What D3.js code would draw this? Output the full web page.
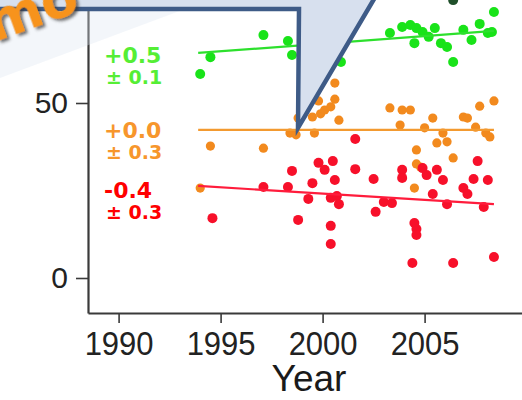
<!DOCTYPE html>
<html lang="en">
<head>
<meta charset="UTF-8">
<title>Trend by year</title>
<script src="https://d3js.org/d3.v7.min.js"></script>
<style>
  body { margin: 0; background: #fff; overflow: hidden; }
  svg { display: block; }
  .axis text { font-family: "Liberation Sans", Arial, sans-serif; fill: #222; }
  .axis path, .axis line { stroke: #3a3a3a; }
</style>
</head>
<body>
<div id="chart"></div>
<script>
// values
const greenYear = [1994.0, 1994.5, 1997.1, 1998.3, 1998.5, 2000.9, 2003.3, 2003.9, 2004.3, 2004.6, 2004.9, 2005.2,
                   2005.5, 2004.5, 2005.8, 2006.1, 2006.4, 2006.9, 2007.3, 2007.7, 2008.1, 2008.3, 2008.4];
const greenValue = [58.3, 63.1, 69.4, 67.7, 63.7, 61.7, 70.0, 71.7, 72.3, 71.4, 70.3, 68.9,
                    71.4, 67.1, 67.1, 66.0, 61.7, 70.9, 68.0, 72.6, 70.0, 70.3, 76.0];

const orangeYear = [1994.0, 1994.5, 1997.1, 1998.4, 1998.7, 1998.8, 1999.5, 1999.6, 1999.9, 2000.1, 2000.4, 2000.6,
                    1999.8, 2000.6, 2000.8, 2003.3, 2003.9, 2004.3, 2005.4, 2003.8, 2005.0, 2005.9, 2005.6, 2006.1,
                    2004.6, 2004.6, 2004.8, 2004.5, 2006.4, 2006.9, 2007.1, 2007.5, 2007.7, 2008.4, 2008.0, 2008.2];
const orangeValue = [25.7, 37.7, 37.1, 41.4, 40.9, 45.7, 46.0, 41.4, 46.9, 48.0, 48.9, 51.1,
                     50.6, 55.7, 45.1, 48.6, 48.0, 48.0, 45.7, 43.7, 42.9, 41.4, 38.6, 38.9,
                     36.6, 32.6, 31.7, 25.7, 34.3, 46.0, 45.7, 43.1, 49.1, 50.6, 41.4, 40.3];

const redYear = [1994.6, 1997.1, 1998.3, 1998.8, 1998.5, 1999.3, 1999.5, 1999.8, 2000.1, 2000.4, 2000.5, 2000.6,
                 2000.7, 2000.8, 2000.4, 2000.4, 2001.6, 2001.6, 2002.5, 2002.6, 2003.0, 2003.4, 2003.9, 2003.9,
                 2004.5, 2004.6, 2004.6, 2004.4, 2004.9, 2005.1, 2005.6, 2005.9, 2005.4, 2006.1, 2006.9, 2007.1,
                 2007.6, 2007.4, 2008.1, 2007.9, 2006.4, 2008.4];
const redValue = [17.1, 26.0, 26.0, 16.6, 30.6, 22.6, 27.1, 32.9, 30.9, 22.9, 33.4, 28.0,
                  23.4, 21.1, 14.9, 9.7, 39.7, 31.1, 28.3, 18.9, 21.7, 21.4, 30.9, 28.6,
                  15.7, 14.0, 12.3, 4.3, 31.4, 29.4, 30.9, 28.0, 24.0, 21.1, 25.7, 24.0,
                  33.4, 28.3, 28.0, 20.3, 4.3, 6.0];

// one dark point peeking in at the top edge
const darkYear = [2006.4];
const darkValue = [79.4];

// fitted trend lines (start / end)
const trendYear = [1993.9, 2008.4];
const greenTrend = [64.3, 70.6];
const orangeTrend = [42.3, 42.3];
const redTrend = [26.3, 21.1];

const slopeText = ["+0.5", "+0.0", "-0.4"];
const errText = ["\u00b1 0.1", "\u00b1 0.3", "\u00b1 0.3"];

const xTicks = [1990, 1995, 2000, 2005];
const xMinor = d3.range(1989, 2011);
const yTicks = [0, 50];
const yMinor = [10, 20, 30, 40, 60, 70];

const width = 522, height = 400;

const svg = d3.select("#chart").append("svg")
    .attr("width", width)
    .attr("height", height);

const x = d3.scaleLinear().domain([1988.5, 2010.5]).range([88, 536.8]);
const y = d3.scaleLinear().domain([-10, 80]).range([313, -2]);

// axes
const xAxisG = svg.append("g").attr("class", "axis")
    .attr("transform", `translate(0,${y(-10)})`);
xAxisG.call(d3.axisBottom(x).tickValues(xMinor).tickSize(6).tickSizeOuter(0).tickFormat(""));
xAxisG.call(d3.axisBottom(x).tickValues(xTicks).tickSize(10).tickSizeOuter(0).tickFormat(d3.format("d")));
xAxisG.selectAll("path").attr("stroke-width", 2.2);
xAxisG.selectAll("line").attr("stroke-width", 1.6);
// the source figure is a little stretched upward, so the year labels are drawn taller
xAxisG.selectAll("text")
    .attr("font-size", 31)
    .attr("y", 17)
    .attr("transform", "scale(1,1.08)");

const yAxisG = svg.append("g").attr("class", "axis")
    .attr("transform", `translate(${x(1988.5)},0)`);
yAxisG.call(d3.axisLeft(y).tickValues(yMinor).tickSize(7).tickSizeOuter(0).tickFormat(""));
yAxisG.call(d3.axisLeft(y).tickValues(yTicks).tickSize(12).tickSizeOuter(0).tickFormat(d3.format("d")));
yAxisG.selectAll("path").attr("stroke-width", 2.2);
yAxisG.selectAll("line").attr("stroke-width", 1.6);
yAxisG.selectAll("text").attr("font-size", 30).attr("x", -20);

svg.append("text")
    .attr("class", "axis")
    .attr("x", 309).attr("y", 391)
    .attr("text-anchor", "middle")
    .attr("font-family", "Liberation Sans, Arial, sans-serif")
    .attr("font-size", 37)
    .attr("fill", "#1a1a1a")
    .text("Year");

// points
function drawPoints(years, values, color, r) {
    svg.append("g").selectAll("circle")
        .data(d3.zip(years, values))
        .join("circle")
        .attr("cx", d => x(d[0]))
        .attr("cy", d => y(d[1]))
        .attr("r", r)
        .attr("fill", color);
}
drawPoints(orangeYear, orangeValue, "#f28a1e", 4.6);
drawPoints(redYear, redValue, "#f7102a", 5);
drawPoints(greenYear, greenValue, "#19e319", 5);
drawPoints(darkYear, darkValue, "#1f4f2a", 5);

// trend lines
const line = d3.line().x(d => x(d[0])).y(d => y(d[1]));
[[greenTrend, "#2de02d"], [orangeTrend, "#f39a30"], [redTrend, "#ff1c3c"]].forEach(([vals, color]) => {
    svg.append("path")
        .datum(d3.zip(trendYear, vals))
        .attr("d", line)
        .attr("fill", "none")
        .attr("stroke", color)
        .attr("stroke-width", 2.2);
});

// slope labels
const labelColors = ["#55ee35", "#f7962c", "#ff0000"];
const labelBase = [63, 138, 198];
slopeText.forEach((t, i) => {
    svg.append("text")
        .attr("x", 104).attr("y", labelBase[i])
        .attr("font-family", "DejaVu Sans, sans-serif")
        .attr("font-weight", "bold")
        .attr("font-size", 22)
        .attr("fill", labelColors[i])
        .text(t);
    svg.append("text")
        .attr("x", 106).attr("y", labelBase[i] + 21)
        .attr("font-family", "DejaVu Sans, sans-serif")
        .attr("font-weight", "bold")
        .attr("font-size", 19)
        .attr("fill", labelColors[i])
        .text(errText[i]);
});

// callout overlay on top
svg.append("path")
    .attr("d", "M0,9 L185,9 L0,78 Z")
    .attr("fill", "#dde5f0")
    .attr("opacity", 0.35);

svg.append("path")
    .attr("d", "M-10,9 L299,9 L298,128 L377,-6 L-10,-6 Z")
    .attr("fill", "#d7e0ee")
    .attr("stroke", "#3e5b87")
    .attr("stroke-width", 4.5)
    .attr("stroke-linejoin", "miter");

const defs = svg.append("defs");
const shadow = defs.append("filter").attr("id", "shadow")
    .attr("x", "-20%").attr("y", "-20%").attr("width", "140%").attr("height", "140%");
shadow.append("feDropShadow")
    .attr("dx", 2).attr("dy", 3).attr("stdDeviation", 1.5)
    .attr("flood-color", "#333").attr("flood-opacity", 0.7);

// slide title text, mostly outside the crop in the original
svg.append("text")
    .attr("transform", "translate(-6,42) rotate(-20)")
    .attr("font-family", "DejaVu Sans, sans-serif")
    .attr("font-weight", "bold")
    .attr("font-size", 54)
    .attr("fill", "#f7931e")
    .attr("filter", "url(#shadow)")
    .text("mo");
</script>
</body>
</html>
